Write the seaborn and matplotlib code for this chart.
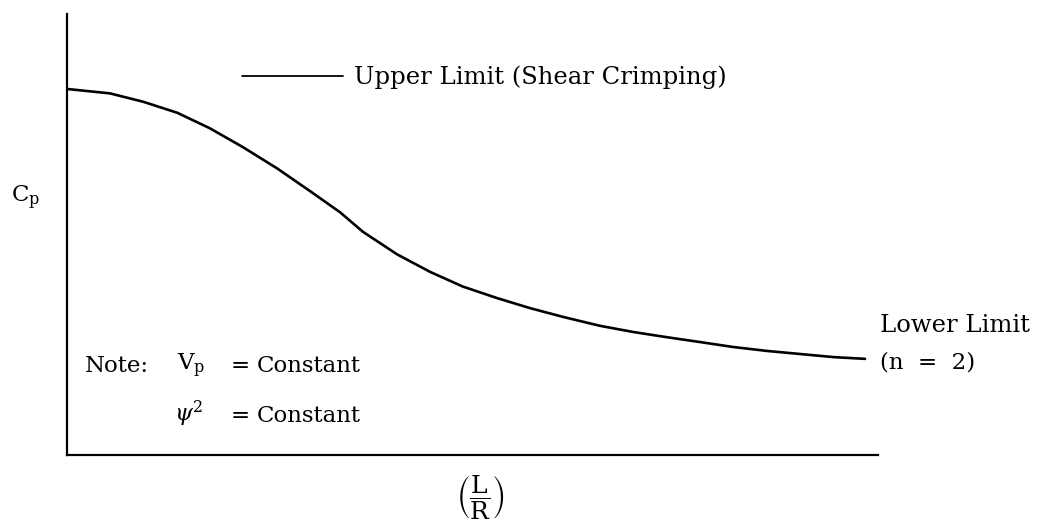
import matplotlib
matplotlib.use("Agg")
import matplotlib.pyplot as plt
from matplotlib.lines import Line2D
import seaborn as sns
import pandas as pd

# Curve read as (L/R, Cp) on a 0-100 relative scale for both axes
l_over_r = [0.0, 5.3, 9.4, 13.6, 17.6, 21.7, 25.9, 30.0, 33.7, 36.5,
            40.7, 44.8, 48.8, 53.0, 57.1, 61.2, 65.7, 69.8, 74.0, 78.1,
            82.1, 86.3, 90.4, 94.5, 98.4]
cp = [83.0, 82.0, 80.1, 77.6, 74.1, 69.8, 65.0, 59.8, 55.0, 50.6,
      45.5, 41.5, 38.2, 35.6, 33.3, 31.3, 29.3, 27.9, 26.7, 25.6,
      24.5, 23.6, 22.9, 22.2, 21.8]

curve = pd.DataFrame({"L/R": l_over_r, "Cp": cp})

sns.set_theme(style="white")
plt.rcParams["font.family"] = ["DejaVu Serif"]
plt.rcParams["mathtext.fontset"] = "dejavuserif"

W, H = 1047, 529
fig = plt.figure(figsize=(W / 100, H / 100), dpi=100)
fig.patch.set_facecolor("white")


def fx(px):
    return px / W


def fy(py):
    return 1 - py / H


ax = fig.add_axes([fx(67), fy(455), (878 - 67) / W, (455 - 14) / H])
sns.lineplot(data=curve, x="L/R", y="Cp", ax=ax, color="black",
             linewidth=1.9, sort=False, estimator=None)
for ln in ax.get_lines():
    ln.set_solid_joinstyle("round")
ax.set_xlim(0, 100)
ax.set_ylim(0, 100)
ax.set_xticks([])
ax.set_yticks([])
ax.set_xlabel("")
ax.set_ylabel("")
for side in ("top", "right"):
    ax.spines[side].set_visible(False)
for side in ("left", "bottom"):
    ax.spines[side].set_color("black")
    ax.spines[side].set_linewidth(1.6)

fs = 16.5
txt = dict(fontsize=fs, ha="left", va="center", color="black")
wide = dict(txt, fontsize=17.5)

# Upper-limit key line and label
fig.add_artist(Line2D([fx(242), fx(343)], [fy(76), fy(76)],
                      transform=fig.transFigure, color="black", linewidth=1.3))
fig.text(fx(354), fy(77), "Upper Limit (Shear Crimping)", **wide)

# Lower-limit label
fig.text(fx(880), fy(326), "Lower Limit", **wide)
fig.text(fx(880), fy(362), "(n  =  2)", **txt)

# Axis titles
fig.text(fx(11), fy(198), r"C$_{\mathrm{p}}$", **txt)
fig.text(fx(480), fy(497), r"$\left(\dfrac{\mathrm{L}}{\mathrm{R}}\right)$",
         fontsize=18, ha="center", va="center", color="black")

# Note block
fig.text(fx(85), fy(366), "Note:", **txt)
fig.text(fx(177), fy(366), r"V$_{\mathrm{p}}$", **txt)
fig.text(fx(174), fy(414), r"$\psi^{2}$", **txt)
for yy in (366, 416):
    fig.text(fx(231), fy(yy), "=", **txt)
    fig.text(fx(257), fy(yy), "Constant", **txt)

fig.savefig("out.png", dpi=100, facecolor="white")
